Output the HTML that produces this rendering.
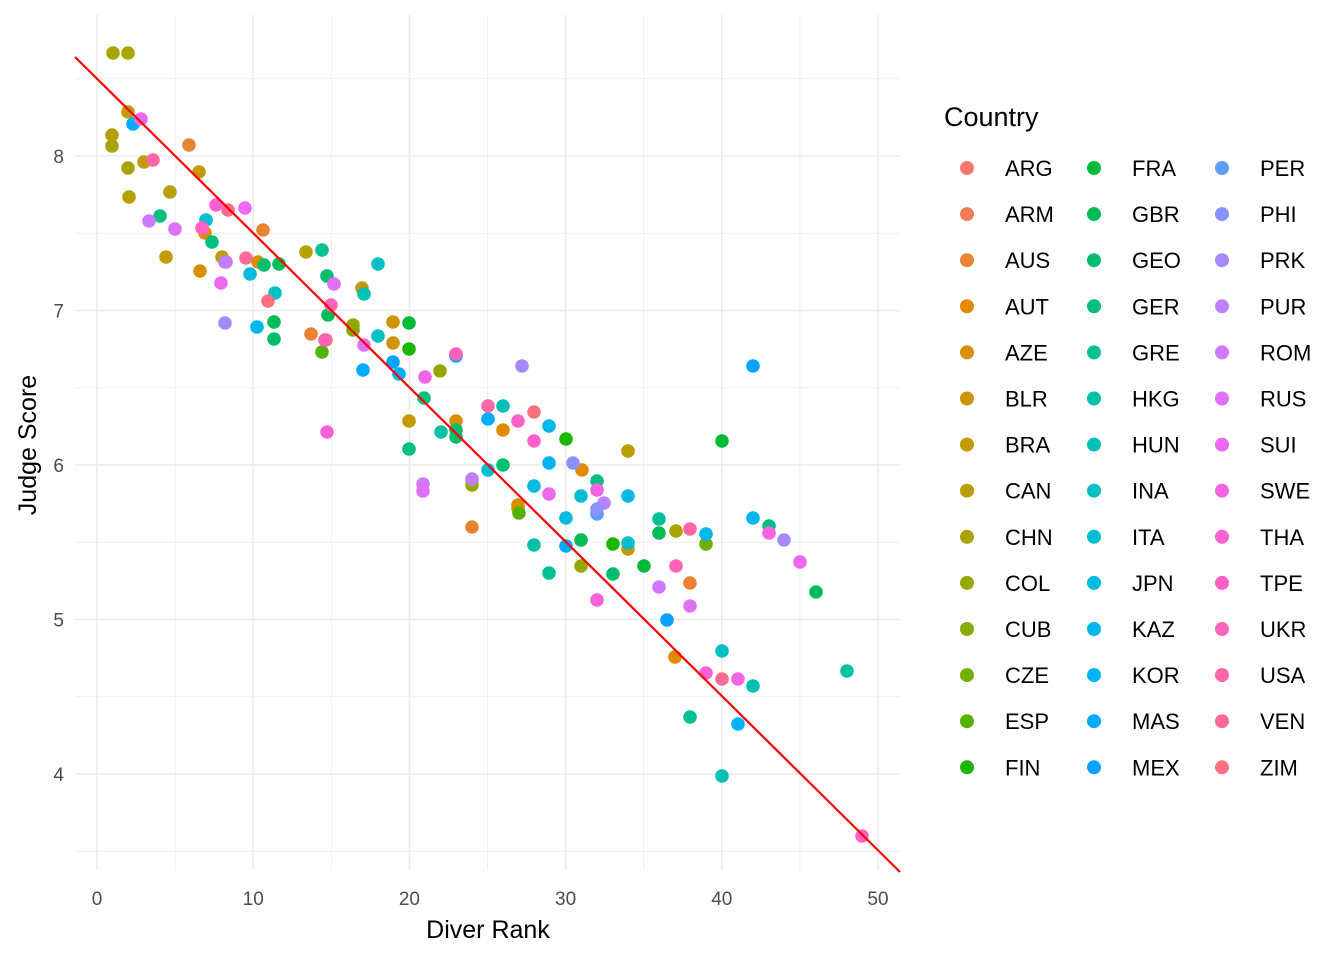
<!DOCTYPE html>
<html><head><meta charset="utf-8"><style>
html,body{margin:0;padding:0;background:#fff}
svg{display:block;font-family:"Liberation Sans",Arial,sans-serif}
</style></head><body>
<svg id="s" width="1344" height="960" xmlns="http://www.w3.org/2000/svg">
<rect width="1344" height="960" fill="#fff"/>
<g id="grid"></g>
<g id="pts"></g>
<line x1="75" y1="57" x2="900" y2="872" stroke="#ff0000" stroke-width="2.2"/>
<g id="axis" font-size="19" fill="#4d4d4d"></g>
<text x="488" y="938" font-size="25" text-anchor="middle" fill="#000">Diver Rank</text>
<text transform="translate(36,445) rotate(-90)" font-size="25" text-anchor="middle" fill="#000">Judge Score</text>
<text x="944" y="126" font-size="27" fill="#000">Country</text>
<g id="leg" font-size="22" fill="#000"></g>
</svg>
<script>
var NS="http://www.w3.org/2000/svg";
function el(t,a,p){var e=document.createElementNS(NS,t);for(var k in a)e.setAttribute(k,a[k]);p.appendChild(e);return e;}
function X(v){return 97+v*15.62;}function Y(v){return 156+(8-v)*154.5;}
var g=document.getElementById('grid'),ax=document.getElementById('axis');
for(var v=-5;v<=55;v+=5){var x=X(v);if(x<75||x>900)continue;el('line',{x1:x,x2:x,y1:15,y2:870,stroke:'#ebebeb','stroke-width':v%10==0?1.6:0.8},g);}
for(var v=3.5;v<=8.6;v+=0.5){var y=Y(v);if(y<15||y>870)continue;el('line',{x1:75,x2:900,y1:y,y2:y,stroke:'#ebebeb','stroke-width':(v%1==0)?1.6:0.8},g);}
for(var v=0;v<=50;v+=10){var t=el('text',{x:X(v),y:905,'text-anchor':'middle'},ax);t.textContent=v;}
for(var v=4;v<=8;v++){var t=el('text',{x:64,y:Y(v)+7,'text-anchor':'end'},ax);t.textContent=v;}
function hcl(h){var L=65,C=100,r=h*Math.PI/180,u=C*Math.cos(r),vv=C*Math.sin(r);
var Xn=95.047,Yn=100,Zn=108.883,d=Xn+15*Yn+3*Zn,un=4*Xn/d,vn=9*Yn/d;
var Yv=Math.pow((L+16)/116,3)*Yn,up=u/(13*L)+un,vp=vv/(13*L)+vn;
var Xv=Yv*9*up/(4*vp),Zv=Yv*(12-3*up-20*vp)/(4*vp);Xv/=100;Yv/=100;Zv/=100;
var R=3.2404542*Xv-1.5371385*Yv-0.4985314*Zv,G=-0.9692660*Xv+1.8760108*Yv+0.0415560*Zv,B=0.0556434*Xv-0.2040259*Yv+1.0572252*Zv;
function gm(c){c=c<=0.0031308?12.92*c:1.055*Math.pow(c,1/2.4)-0.055;return Math.round(Math.max(0,Math.min(1,c))*255);}
return 'rgb('+gm(R)+','+gm(G)+','+gm(B)+')';}
var names="ARG ARM AUS AUT AZE BLR BRA CAN CHN COL CUB CZE ESP FIN FRA GBR GEO GER GRE HKG HUN INA ITA JPN KAZ KOR MAS MEX PER PHI PRK PUR ROM RUS SUI SWE THA TPE UKR USA VEN ZIM".split(' ');
var cols=[];for(var i=0;i<42;i++)cols.push(hcl(15+360*i/42));
var leg=document.getElementById('leg');
for(var i=0;i<42;i++){var c=Math.floor(i/14),r=i%14,x=[967,1094,1222][c],y=168+r*46.1;
el('circle',{cx:x,cy:y,r:7,fill:cols[i]},leg);var t=el('text',{x:x+38,y:y+8},leg);t.textContent=names[i];}
var P=[
[113,53,8],[128,53,8],[112,135,7],[112,146,8],[128,112,6],[128,168,8],[129,197,7],[144,162,6],[170,192,7],[166,257,6],[199,172,6],[222,257,7],[306,252,7],[353,325,9],[362,288,6],[393,322,5],[393,343,5],[409,421,6],[440,371,9],[456,421,4],[472,485,9],[518,508,6],[581,566,9],[628,451,7],[628,549,6],[676,531,8],
[189,145,2],[263,230,2],[200,271,4],[205,233,3],[311,334,2],[326,340,1],[503,430,3],[472,527,2],[582,470,3],[675,657,3],[690,583,2],[258,262,4],[518,505,4],
[409,323,14],[409,349,13],[274,322,15],[274,339,16],[322,352,12],[328,315,15],[409,449,17],[456,437,16],[503,465,16],[519,513,12],[566,439,13],[581,540,15],[613,544,13],[613,574,16],[644,566,14],[659,519,18],[659,533,15],[706,544,11],[722,441,14],[769,526,17],[816,592,15],[327,276,16],[353,330,10],
[160,216,17],[212,242,17],[264,265,16],[279,264,15],[322,250,18],[424,398,17],[441,432,19],[456,430,16],[549,573,18],[534,545,19],[597,481,17],[690,717,18],[753,686,20],[847,671,19],[722,651,21],[722,776,20],[503,406,20],[275,293,21],[378,264,21],[364,294,20],[378,336,21],
[206,220,22],[250,274,23],[257,327,24],[363,370,26],[393,362,27],[399,374,25],[456,356,25],[488,419,26],[488,470,22],[534,486,23],[549,426,24],[549,463,25],[566,518,23],[566,546,26],[581,496,22],[597,514,28],[628,496,23],[628,543,22],[667,620,27],[706,534,24],[738,724,25],[753,366,27],[753,518,24],[133,124,26],[456,355,27],
[141,119,34],[153,160,39],[149,221,32],[175,229,33],[202,228,37],[216,205,36],[228,210,40],[221,283,34],[226,262,38],[245,208,34],[246,258,40],[268,301,41],[225,262,31],[331,305,38],[334,284,33],[327,432,36],[325,340,38],[364,345,33],[425,377,35],[423,484,32],[423,491,33],[456,354,38],[472,479,31],[488,406,39],[518,421,37],[522,366,30],[534,412,41],[534,441,37],[549,494,34],[597,600,36],[604,503,31],[597,509,29],[573,463,29],[659,587,32],[690,606,33],[706,673,36],[722,679,40],[738,679,35],[769,533,35],[784,540,30],[800,562,34],[862,836,37],[225,323,30],[676,566,38],[690,529,39],[597,490,35]];
var pg=document.getElementById('pts');
P.forEach(function(p){el('circle',{cx:p[0],cy:p[1],r:6.8,fill:cols[p[2]]},pg);});
</script>
</body></html>
